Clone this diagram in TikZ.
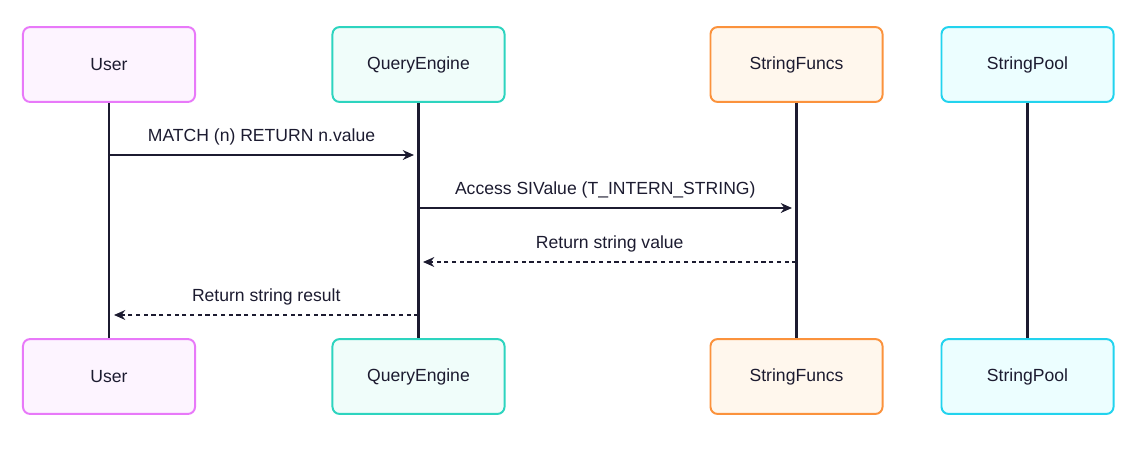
\documentclass[tikz,border=0pt]{standalone}
\usepackage{fontspec}
\setmainfont{Liberation Sans}
\usetikzlibrary{arrows.meta,positioning}
\definecolor{ink}{RGB}{28,27,48}
\definecolor{userline}{RGB}{232,121,249}
\definecolor{userfill}{RGB}{253,244,255}
\definecolor{qeline}{RGB}{45,212,191}
\definecolor{qefill}{RGB}{240,253,250}
\definecolor{sfline}{RGB}{251,146,60}
\definecolor{sffill}{RGB}{255,247,237}
\definecolor{spline}{RGB}{34,211,238}
\definecolor{spfill}{RGB}{236,254,255}

\begin{document}
\begin{tikzpicture}[
    x=0.025cm, y=-0.025cm,
    actor/.style={draw=#1line, fill=#1fill, line width=1.4pt, rounded corners=5pt,
        minimum width=4.3cm, minimum height=1.87cm, font=\fontsize{12.5}{15}\selectfont, text=ink},
    life/.style={ink, line width=1.5pt},
    msg/.style={-{Stealth[length=8pt,width=7pt]}, ink, line width=1.2pt},
    reply/.style={msg, dashed, dash pattern=on 3pt off 2.5pt},
    lbl/.style={font=\fontsize{12.5}{15}\selectfont, text=ink, above=3pt}
]
    \useasboundingbox (0,0) rectangle (1144,448);

    % participants, top and bottom
    \node[actor=user] (user) at (109,64.5) {User};
    \node[actor=qe] (engine) at (418.5,64.5) {QueryEngine};
    \node[actor=sf] (funcs) at (796.5,64.5) {StringFuncs};
    \node[actor=sp] (pool) at (1027.5,64.5) {StringPool};
    \node[actor=user] (user2) at (109,376.5) {User};
    \node[actor=qe] (engine2) at (418.5,376.5) {QueryEngine};
    \node[actor=sf] (funcs2) at (796.5,376.5) {StringFuncs};
    \node[actor=sp] (pool2) at (1027.5,376.5) {StringPool};

    % lifelines
    \draw[life] (user) -- (user2);
    \draw[life] (engine) -- (engine2);
    \draw[life] (funcs) -- (funcs2);
    \draw[life] (pool) -- (pool2);

    % message ends
    \coordinate (m1a) at (109,155);  \coordinate (m1b) at (414,155);
    \coordinate (m2a) at (418.5,208); \coordinate (m2b) at (792,208);
    \coordinate (m3a) at (796.5,262); \coordinate (m3b) at (423,262);
    \coordinate (m4a) at (418.5,315); \coordinate (m4b) at (114,315);

    \draw[msg] (m1a) -- node[lbl] {MATCH (n) RETURN n.value} (m1b);
    \draw[msg] (m2a) -- node[lbl] {Access SIValue (T\_INTERN\_STRING)} (m2b);
    \draw[reply] (m3a) -- node[lbl] {Return string value} (m3b);
    \draw[reply] (m4a) -- node[lbl] {Return string result} (m4b);
\end{tikzpicture}
\end{document}
